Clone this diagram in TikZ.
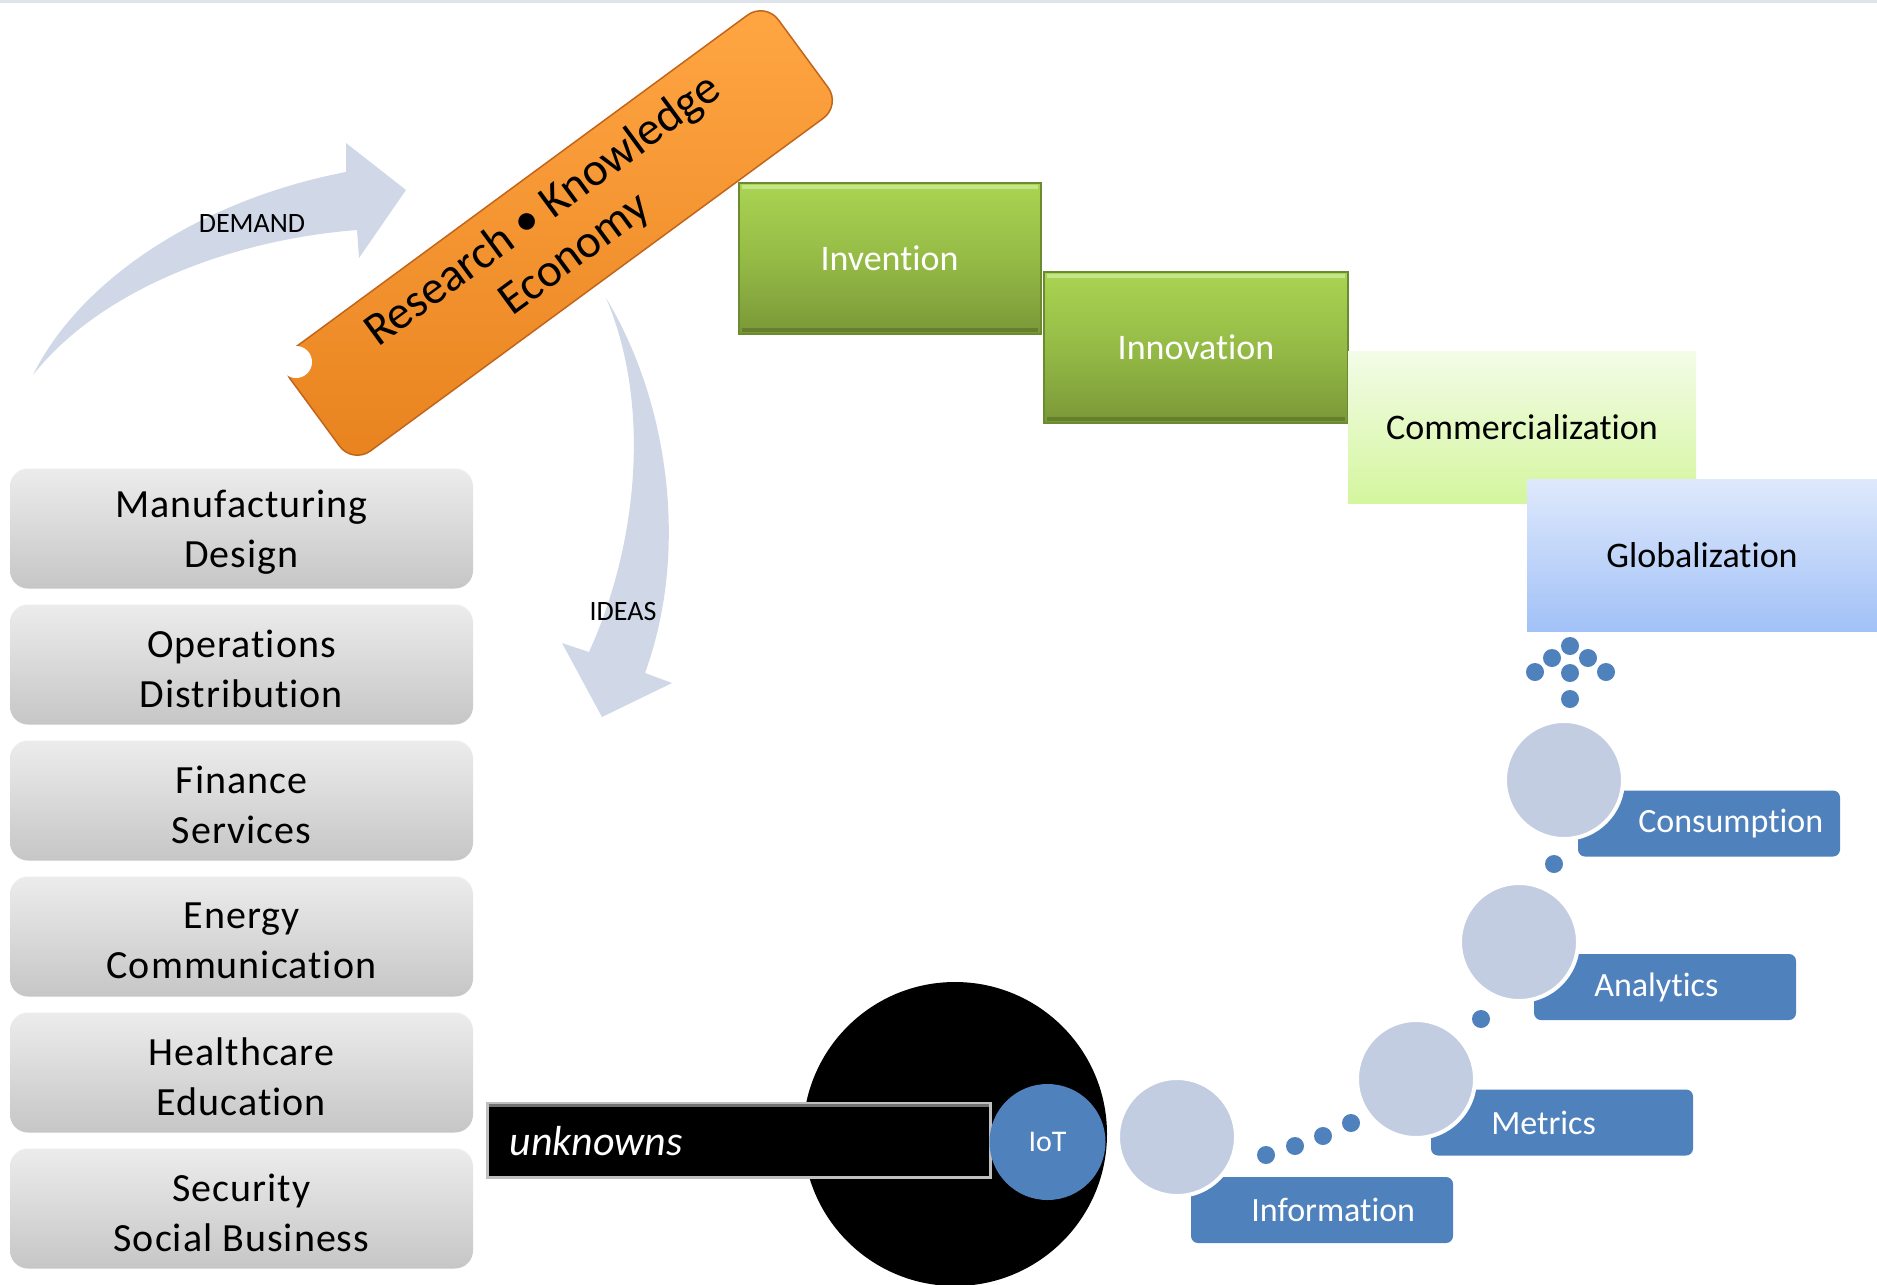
\documentclass[tikz,border=0pt]{standalone}
\usepackage{fontspec}
\defaultfontfeatures{Ligatures={TeX,NoCommon}}
\setmainfont{Carlito}
\newfontfamily\spacedfont[LetterSpace=2.5]{Carlito}
\definecolor{flowarrow}{HTML}{D0D8E8}
\definecolor{secttop}{HTML}{ECECEC}
\definecolor{sectbot}{HTML}{C6C6C6}
\definecolor{greentop}{HTML}{AAD452}
\definecolor{greenmid}{HTML}{95BB46}
\definecolor{greenbot}{HTML}{7A9838}
\definecolor{greenedge}{HTML}{6C8A30}
\definecolor{greenlight}{HTML}{C4E68A}
\definecolor{greendark}{HTML}{65802C}
\definecolor{paletop}{HTML}{F3FCE8}
\definecolor{palebot}{HTML}{D4F69E}
\definecolor{globtop}{HTML}{DFE9FC}
\definecolor{globbot}{HTML}{A2C1F7}
\definecolor{orangetop}{HTML}{FFA643}
\definecolor{orangebot}{HTML}{E8831F}
\definecolor{orangeedge}{HTML}{C2651A}
\definecolor{stepblue}{HTML}{4F81BD}
\definecolor{bubble}{HTML}{C2CDE2}
\definecolor{topline}{HTML}{DDE4EA}
\begin{document}
\begin{tikzpicture}[x=1pt,y=-1pt,
  sectorbox/.style={rounded corners=18pt, top color=secttop, bottom color=sectbot,
    minimum width=463pt, minimum height=120pt, inner sep=0pt},
  sectortext/.style={align=center, inner sep=0pt,
    font=\spacedfont\fontsize{40}{50}\selectfont},
  greenstage/.style={top color=greentop, bottom color=greenbot, middle color=greenmid,
    draw=greenedge, line width=2pt, minimum width=302pt, minimum height=151pt,
    text=white, font=\fontsize{36}{43}\selectfont},
  palestage/.style={minimum width=348pt, minimum height=152pt,
    font=\fontsize{36}{43}\selectfont},
  bevellight/.style={greenlight, line width=4pt},
  beveldark/.style={greendark, line width=4pt},
  bluestep/.style={fill=stepblue, rounded corners=7pt, minimum width=262pt,
    minimum height=66pt, inner sep=0pt},
  steplabel/.style={anchor=west, text=white, font=\fontsize{34}{40}\selectfont},
  bubblenode/.style={circle, fill=bubble, draw=white, line width=4pt,
    minimum size=118pt, inner sep=0pt},
  bead/.style={circle, fill=stepblue, minimum size=18pt, inner sep=0pt},
  flowlabel/.style={font=\fontsize{28}{34}\selectfont}
]
\useasboundingbox (0,0) rectangle (1877,1285);
\fill[white] (0,0) rectangle (1877,1285);
\clip (0,0) rectangle (1877,1285);
\fill[topline] (0,0) rectangle (1877,2.5);

% curved DEMAND arrow
\fill[flowarrow] (33,375) .. controls (80,280) and (200,200) .. (346,172)
  -- (346,143) -- (406,190) -- (359,258) -- (357,230)
  .. controls (230,240) and (100,290) .. (33,375) -- cycle;
\node[flowlabel] (demand) at (252,224) {DEMAND};

% curved IDEAS arrow
\fill[flowarrow] (606,298) .. controls (668,400) and (690,550) .. (645,673)
  -- (672,683) -- (602,717) -- (562,643) -- (589,652)
  .. controls (640,540) and (650,400) .. (606,298) -- cycle;
\node[flowlabel] (ideas) at (623,612) {IDEAS};

% sectors
\node[sectorbox] (s1) at (241.5,528.5) {};
\node[sectorbox] (s2) at (241.5,664.5) {};
\node[sectorbox] (s3) at (241.5,800.5) {};
\node[sectorbox] (s4) at (241.5,936.5) {};
\node[sectorbox] (s5) at (241.5,1072.5) {};
\node[sectorbox] (s6) at (241.5,1208.5) {};
\node[sectortext] (t1) at ([yshift=-4pt]s1.center) {Manufacturing\\Design};
\node[sectortext] (t2) at ([yshift=-4pt]s2.center) {Operations\\Distribution};
\node[sectortext] (t3) at ([yshift=-4pt]s3.center) {Finance\\Services};
\node[sectortext] (t4) at ([yshift=-4pt]s4.center) {Energy\\Communication};
\node[sectortext] (t5) at ([yshift=-4pt]s5.center) {Healthcare\\Education};
\node[sectortext] (t6) at ([yshift=-4pt]s6.center) {Security\\Social Business};

% staircase of stages
\node[greenstage] (invention) at (889.5,258.5) {Invention};
\node[greenstage, minimum width=304pt] (innovation) at (1196,347.5) {Innovation};
\foreach \s in {invention, innovation} {
  \draw[bevellight] ([shift={(4,5)}]\s.north west) -- ([shift={(-4,5)}]\s.north east);
  \draw[beveldark] ([shift={(4,-5)}]\s.south west) -- ([shift={(-4,-5)}]\s.south east);
}
\node[palestage, top color=paletop, bottom color=palebot] (commerce) at (1522,427) {Commercialization};
\node[palestage, top color=globtop, bottom color=globbot, minimum width=350pt] (global) at (1702,555) {Globalization};

% research / knowledge economy banner
\node[rounded corners=22pt, top color=orangetop, bottom color=orangebot,
  draw=orangeedge, line width=1.5pt, minimum width=606pt, minimum height=128pt,
  rotate=36.3, align=center, font=\fontsize{47}{54}\selectfont] (rke) at (559,233)
  {Research \textbullet{} Knowledge\\Economy};
\node[circle, fill=white, minimum size=32pt, inner sep=0pt] (rkedot) at (296,362) {};

% unknowns and IoT
\node[circle, fill=black, minimum size=304pt, inner sep=0pt] (void) at (955,1134) {};
\node[fill=black, draw=black!25, line width=3pt, minimum width=503pt,
  minimum height=74pt, inner sep=0pt] (unknowns) at (738.5,1140) {};
\draw[black!55, line width=3pt] ([shift={(3,4)}]unknowns.north west) -- ([shift={(-3,4)}]unknowns.north east);
\node[anchor=west, text=white, font=\itshape\fontsize{42}{50}\selectfont]
  (unknownstext) at (506,1141) {unknowns};
\node[circle, fill=stepblue, minimum size=116pt, inner sep=0pt, text=white,
  font=\fontsize{30}{36}\selectfont] (iot) at (1047.5,1142) {IoT};

% stepping stones
\node[bluestep] (info) at (1322,1210) {};
\node[bluestep] (metrics) at (1562,1122.5) {};
\node[bluestep] (analytics) at (1665,987) {};
\node[bluestep] (consumption) at (1709,823.5) {};

\node[bubblenode] (infoball) at (1177,1137) {};
\node[bubblenode] (metricsball) at (1416,1079) {};
\node[bubblenode] (analyticsball) at (1519,942) {};
\node[bubblenode] (consumptionball) at (1564,780) {};

\node[steplabel] at ([xshift=57pt]info.west) {Information};
\node[steplabel] at ([xshift=57pt]metrics.west) {Metrics};
\node[steplabel] at ([xshift=57pt]analytics.west) {Analytics};
\node[steplabel] at ([xshift=57pt]consumption.west) {Consumption};

\node[bead] (b1) at (1266,1155) {};
\node[bead] (b2) at (1295,1146) {};
\node[bead] (b3) at (1323,1136) {};
\node[bead] (b4) at (1351,1123) {};
\node[bead] (b5) at (1481,1019) {};
\node[bead] (b6) at (1554,864) {};

% scattered beads under Globalization
\node[bead] (g1) at (1570,646) {};
\node[bead] (g2) at (1552,658) {};
\node[bead] (g3) at (1588,658) {};
\node[bead] (g4) at (1535,672) {};
\node[bead] (g5) at (1570,673) {};
\node[bead] (g6) at (1606,672) {};
\node[bead] (g7) at (1570,699) {};
\end{tikzpicture}
\end{document}
